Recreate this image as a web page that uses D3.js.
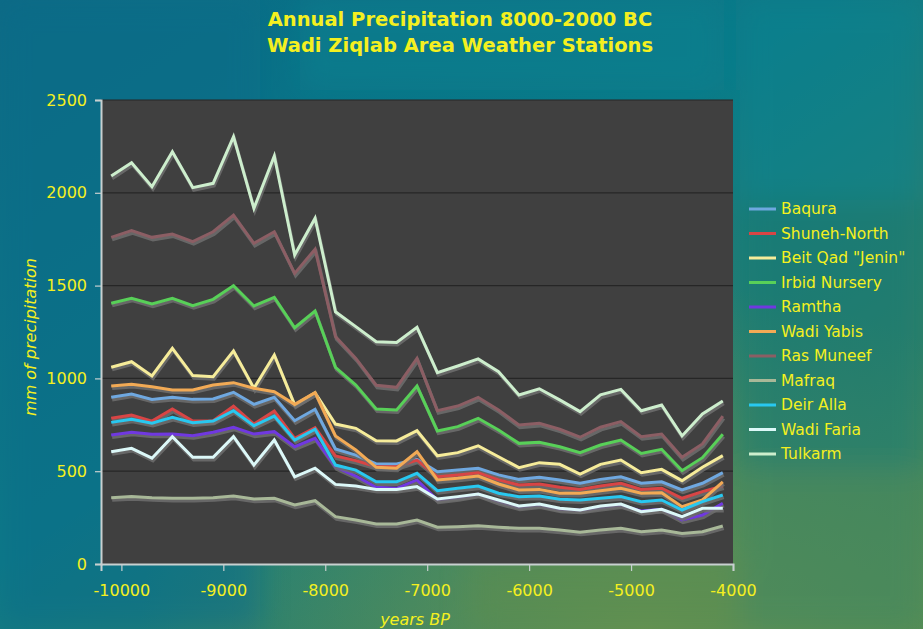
<!DOCTYPE html>
<html>
<head>
<meta charset="utf-8">
<script src="https://cdn.jsdelivr.net/npm/d3@7"></script>
<style>
  html, body { margin: 0; padding: 0; background: #0a7488; }
  svg { display: block; }
</style>
</head>
<body>
<div id="chart"></div>
<script>
// years BP, one point every 200 years
const years = d3.range(31).map(i => -10100 + i * 200);

const baqura      = [898,916,887,898,887,889,925,860,898,772,834,620,587,539,539,564,497,506,516,480,456,467,453,435,456,470,435,443,399,435,492];
const shunehNorth = [785,803,770,835,770,772,851,754,824,677,735,582,557,524,524,560,470,480,492,453,426,431,413,402,420,435,402,408,354,390,420];
const beitQad     = [1060,1090,1013,1162,1015,1009,1148,947,1126,857,923,754,731,664,663,718,583,600,637,578,519,546,537,485,537,560,492,510,449,521,584];
const irbid       = [1405,1432,1401,1432,1392,1426,1500,1390,1437,1273,1363,1060,964,835,830,959,717,740,785,722,650,656,632,600,641,668,596,618,503,573,699];
const ramtha      = [695,710,699,700,691,710,737,700,713,632,677,524,474,413,408,453,345,357,376,336,306,318,295,290,305,318,285,295,237,264,327];
const wadiYabis   = [959,968,955,938,938,964,977,947,928,860,923,690,614,521,516,605,453,462,474,431,399,402,381,381,395,408,381,384,309,345,443];
const rasMuneef   = [1760,1796,1760,1778,1737,1790,1880,1728,1790,1566,1696,1225,1108,963,952,1108,826,851,898,830,749,758,726,683,737,767,686,700,575,647,797];
const mafraq      = [357,363,357,354,354,357,366,350,354,318,341,255,237,216,216,237,198,201,206,198,192,192,183,171,183,192,174,183,165,174,205];
const deirAlla    = [763,780,758,790,761,770,826,745,797,668,726,533,506,443,443,489,395,408,420,381,363,366,349,345,354,363,336,345,291,336,372];
const wadiFaria   = [605,623,570,686,575,575,686,533,668,470,516,429,420,402,402,417,350,363,377,345,313,323,300,291,313,323,282,295,255,300,300];
const tulkarm     = [2090,2162,2033,2221,2028,2051,2302,1916,2198,1665,1863,1359,1279,1198,1194,1275,1031,1067,1105,1036,911,944,884,821,911,941,826,857,690,808,878];

const seriesNames  = ["Baqura", "Shuneh-North", "Beit Qad \"Jenin\"", "Irbid Nursery", "Ramtha", "Wadi Yabis", "Ras Muneef", "Mafraq", "Deir Alla", "Wadi Faria", "Tulkarm"];
const seriesValues = [baqura, shunehNorth, beitQad, irbid, ramtha, wadiYabis, rasMuneef, mafraq, deirAlla, wadiFaria, tulkarm];
const seriesColors = ["#6fa8e0", "#d84545", "#f6ec9a", "#58d058", "#7038e0", "#f2aa55", "#8c5e64", "#a8b898", "#28c8f0", "#dcf8f8", "#cdeecd"];

const xTicks = [-10000, -9000, -8000, -7000, -6000, -5000, -4000];
const yTicks = [0, 500, 1000, 1500, 2000, 2500];

const W = 923, H = 629;
const margin = {top: 100, right: 190, bottom: 65, left: 101};
const width = W - margin.left - margin.right,
      height = H - margin.top - margin.bottom;

const svg = d3.select("#chart").append("svg")
    .attr("width", W)
    .attr("height", H);

const defs = svg.append("defs");

// background: teal fading into green at the lower right
const bg = defs.append("linearGradient").attr("id", "bg")
    .attr("x1", "0").attr("y1", "0").attr("x2", "1").attr("y2", "1");
bg.append("stop").attr("offset", "0%").attr("stop-color", "#096a86");
bg.append("stop").attr("offset", "45%").attr("stop-color", "#0a7a88");
bg.append("stop").attr("offset", "75%").attr("stop-color", "#2f8068");
bg.append("stop").attr("offset", "100%").attr("stop-color", "#4a8a58");

const glow = defs.append("radialGradient").attr("id", "glow")
    .attr("cx", "0.7").attr("cy", "1").attr("r", "0.55");
glow.append("stop").attr("offset", "0%").attr("stop-color", "#6a9450").attr("stop-opacity", 0.9);
glow.append("stop").attr("offset", "100%").attr("stop-color", "#6a9450").attr("stop-opacity", 0);

defs.append("filter").attr("id", "blur")
  .append("feGaussianBlur").attr("stdDeviation", 14);

svg.append("rect").attr("width", W).attr("height", H).attr("fill", "url(#bg)");
svg.append("rect").attr("width", W).attr("height", H).attr("fill", "url(#glow)");

const patches = svg.append("g").attr("filter", "url(#blur)").attr("opacity", 0.5);
patches.append("rect").attr("x", 0).attr("y", 0).attr("width", 260).attr("height", 629).attr("fill", "#0b6c88");
patches.append("rect").attr("x", 300).attr("y", 0).attr("width", 420).attr("height", 90).attr("fill", "#078290");
patches.append("rect").attr("x", 740).attr("y", 0).attr("width", 183).attr("height", 200).attr("fill", "#078490");
patches.append("rect").attr("x", 740).attr("y", 200).attr("width", 183).attr("height", 270).attr("fill", "#157a74");
patches.append("rect").attr("x", 470).attr("y", 560).attr("width", 300).attr("height", 69).attr("fill", "#5a8c50");
patches.append("rect").attr("x", 740).attr("y", 470).attr("width", 183).attr("height", 159).attr("fill", "#3f8660");

const g = svg.append("g")
    .attr("transform", "translate(" + margin.left + "," + margin.top + ")");

const x = d3.scaleLinear().domain([-10200, -4000]).range([0, width]);
const y = d3.scaleLinear().domain([0, 2500]).range([height, 0]);

// plot area
g.append("rect")
    .attr("width", width)
    .attr("height", height)
    .attr("fill", "#404040");

g.append("g")
  .selectAll("line")
  .data(yTicks.filter(d => d > 0))
  .enter().append("line")
    .attr("x1", 0).attr("x2", width)
    .attr("y1", d => y(d)).attr("y2", d => y(d))
    .attr("stroke", "#262626")
    .attr("stroke-width", 1.2);

// axes (plain hyphen minus, no thousands separator)
const plain = d => String(d);
const yAxis = g.append("g")
    .call(d3.axisLeft(y).tickValues(yTicks).tickSize(6).tickPadding(8).tickFormat(plain));
const xAxis = g.append("g")
    .attr("transform", "translate(0," + height + ")")
    .call(d3.axisBottom(x).tickValues(xTicks).tickSize(7).tickPadding(14).tickFormat(plain));

[xAxis, yAxis].forEach(ax => {
  ax.select(".domain").attr("stroke", "#c8d0d0").attr("stroke-width", 2);
  ax.selectAll(".tick line").attr("stroke", "#c8d0d0").attr("stroke-width", 1.2);
  ax.selectAll("text")
    .attr("fill", "#f4f020")
    .style("font-family", "'DejaVu Sans', Verdana, sans-serif")
    .style("font-size", "16px");
});

// series lines with a drop shadow
const line = d3.line()
    .x((d, i) => x(years[i]))
    .y(d => y(d));

const series = g.append("g");
seriesValues.forEach((vals, k) => {
  series.append("path")
      .attr("d", line(vals))
      .attr("fill", "none")
      .attr("stroke", "#6e6e6e")
      .attr("stroke-opacity", 0.85)
      .attr("stroke-width", 3.2)
      .attr("stroke-linejoin", "miter")
      .attr("transform", "translate(1,2.5)");
  series.append("path")
      .attr("d", line(vals))
      .attr("fill", "none")
      .attr("stroke", seriesColors[k])
      .attr("stroke-width", 3)
      .attr("stroke-linejoin", "miter");
});

// titles
const title = svg.append("g")
    .attr("fill", "#f4f020")
    .style("font-family", "'DejaVu Sans', Verdana, sans-serif")
    .style("font-weight", "bold")
    .style("font-size", "19.5px")
    .attr("text-anchor", "middle");
title.append("text").attr("x", 460).attr("y", 26).text("Annual Precipitation 8000-2000 BC");
title.append("text").attr("x", 460).attr("y", 52).text("Wadi Ziqlab Area Weather Stations");

svg.append("text")
    .attr("x", 415).attr("y", 625)
    .attr("text-anchor", "middle")
    .attr("fill", "#f4f020")
    .style("font-family", "'DejaVu Sans', Verdana, sans-serif")
    .style("font-style", "italic")
    .style("font-size", "16px")
    .text("years BP");

svg.append("text")
    .attr("transform", "translate(36,337) rotate(-90)")
    .attr("text-anchor", "middle")
    .attr("fill", "#f4f020")
    .style("font-family", "'DejaVu Sans', Verdana, sans-serif")
    .style("font-style", "italic")
    .style("font-size", "16px")
    .text("mm of precipitation");

// legend
const legend = svg.append("g").attr("transform", "translate(749,209)");
const item = legend.selectAll("g")
    .data(seriesNames)
    .enter().append("g")
    .attr("transform", (d, i) => "translate(0," + (i * 24.5) + ")");
item.append("line")
    .attr("x1", 0).attr("x2", 27)
    .attr("stroke", (d, i) => seriesColors[i])
    .attr("stroke-width", 3);
item.append("text")
    .attr("x", 32).attr("dy", "0.35em")
    .attr("fill", "#f4f020")
    .style("font-family", "'DejaVu Sans', Verdana, sans-serif")
    .style("font-size", "15.5px")
    .text(d => d);
</script>
</body>
</html>
